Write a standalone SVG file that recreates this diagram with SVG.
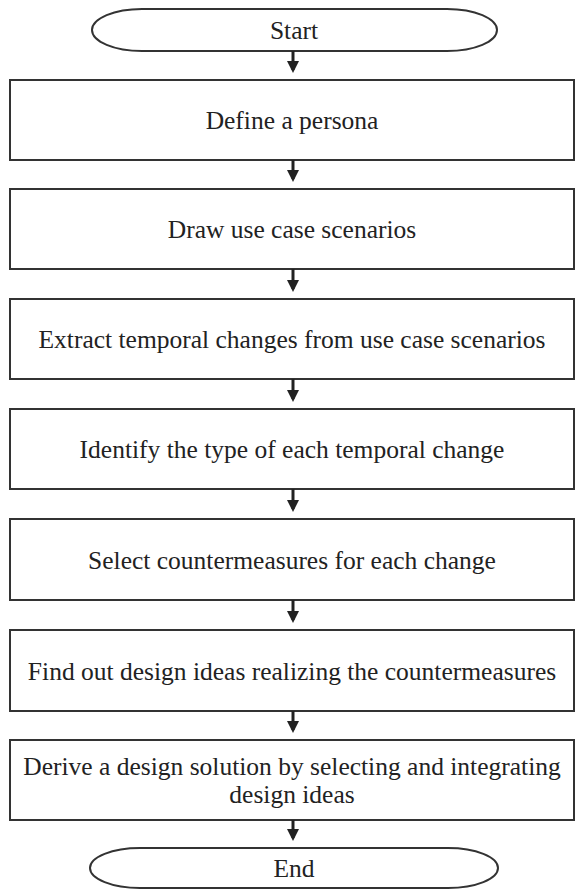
<svg xmlns="http://www.w3.org/2000/svg" width="576" height="890" viewBox="0 0 576 890">
<defs>
<style>
.box{fill:#fff;stroke:#333;stroke-width:2}
.term{fill:#fff;stroke:#333;stroke-width:2}
.t{font-family:"Liberation Serif","Times New Roman",serif;font-size:25.5px;fill:#222;text-anchor:middle}
.c{stroke:#222;stroke-width:3;fill:none}
</style>
<marker id="ah" markerWidth="4" markerHeight="4" refX="3" refY="2" orient="auto" markerUnits="strokeWidth">
<path d="M0,0 L4,2 L0,4 Z" fill="#222"/>
</marker>
</defs>
<rect width="576" height="890" fill="#fff"/>
<g id="start">
<rect class="term" x="92" y="9" width="405" height="42" rx="50" ry="21"/>
<text class="t" x="294" y="39">Start</text>
</g>
<g id="n1">
<rect class="box" x="10" y="80" width="564" height="80"/>
<text class="t" x="292" y="129">Define a persona</text>
</g>
<g id="n2">
<rect class="box" x="10" y="189" width="564" height="80"/>
<text class="t" x="292" y="238">Draw use case scenarios</text>
</g>
<g id="n3">
<rect class="box" x="10" y="299" width="564" height="80"/>
<text class="t" x="292" y="348">Extract temporal changes from use case scenarios</text>
</g>
<g id="n4">
<rect class="box" x="10" y="409" width="564" height="80"/>
<text class="t" x="292" y="458">Identify the type of each temporal change</text>
</g>
<g id="n5">
<rect class="box" x="10" y="519" width="564" height="81"/>
<text class="t" x="292" y="569">Select countermeasures for each change</text>
</g>
<g id="n6">
<rect class="box" x="10" y="630" width="564" height="81"/>
<text class="t" x="292" y="680">Find out design ideas realizing the countermeasures</text>
</g>
<g id="n7">
<rect class="box" x="10" y="740" width="564" height="80"/>
<text class="t" x="292" y="775">Derive a design solution by selecting and integrating</text>
<text class="t" x="292" y="803">design ideas</text>
</g>
<g id="end">
<rect class="term" x="90" y="848" width="408" height="40" rx="50" ry="20"/>
<text class="t" x="294" y="877">End</text>
</g>
<g id="connectors">
<line class="c" x1="293" y1="51" x2="293" y2="70" marker-end="url(#ah)"/>
<line class="c" x1="293" y1="160" x2="293" y2="179" marker-end="url(#ah)"/>
<line class="c" x1="293" y1="269" x2="293" y2="289" marker-end="url(#ah)"/>
<line class="c" x1="293" y1="379" x2="293" y2="399" marker-end="url(#ah)"/>
<line class="c" x1="293" y1="489" x2="293" y2="509" marker-end="url(#ah)"/>
<line class="c" x1="293" y1="600" x2="293" y2="620" marker-end="url(#ah)"/>
<line class="c" x1="293" y1="711" x2="293" y2="730" marker-end="url(#ah)"/>
<line class="c" x1="293" y1="820" x2="293" y2="838" marker-end="url(#ah)"/>
</g>
</svg>
